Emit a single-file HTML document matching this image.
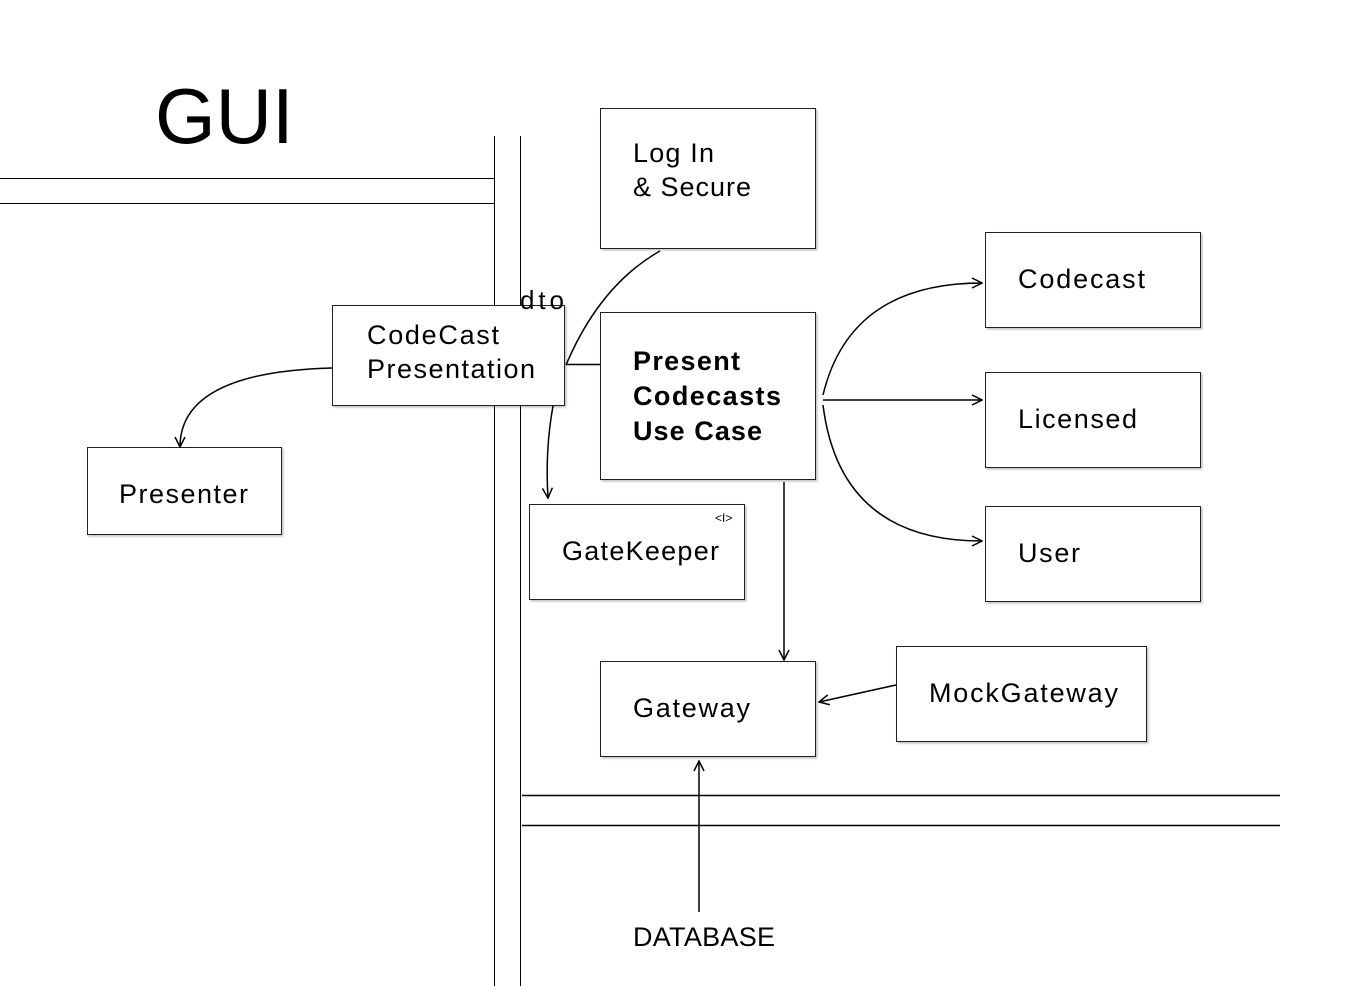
<!DOCTYPE html>
<html><head><meta charset="utf-8"><style>
html,body{margin:0;padding:0;background:#fff;width:1372px;height:986px;overflow:hidden}
svg{display:block}
text{font-family:"Liberation Sans",sans-serif;fill:#000}
</style></head><body>
<svg width="1372" height="986" viewBox="0 0 1372 986" xmlns="http://www.w3.org/2000/svg">
<defs>
<filter id="sh" x="-5%" y="-5%" width="115%" height="120%"><feDropShadow dx="1.5" dy="1.5" stdDeviation="1" flood-color="#000" flood-opacity="0.25"/></filter>
<marker id="ar" viewBox="0 0 12 12" refX="11" refY="6" markerWidth="12" markerHeight="12" markerUnits="userSpaceOnUse" orient="auto"><path d="M1,1 L11,6 L1,11" fill="none" stroke="#000" stroke-width="1.5"/></marker>
</defs>
<g stroke="#000" stroke-width="1" fill="none">
<line x1="0" y1="178.5" x2="494" y2="178.5"/>
<line x1="0" y1="203.5" x2="494" y2="203.5"/>
<line x1="494.5" y1="136" x2="494.5" y2="986"/>
<line x1="520.5" y1="136" x2="520.5" y2="986"/>
<line x1="522" y1="795.5" x2="1280" y2="795.5" stroke-width="1.5"/>
<line x1="522" y1="825.5" x2="1280" y2="825.5" stroke-width="1.5"/>
</g>
<g fill="#fff" stroke="#222" stroke-width="1" filter="url(#sh)">
<rect x="600.5" y="108.5" width="215" height="140"/>
<rect x="332.5" y="305.5" width="232" height="100"/>
<rect x="600.5" y="312.5" width="215" height="167"/>
<rect x="985.5" y="232.5" width="215" height="95"/>
<rect x="985.5" y="372.5" width="215" height="95"/>
<rect x="985.5" y="506.5" width="215" height="95"/>
<rect x="87.5" y="447.5" width="194" height="87"/>
<rect x="529.5" y="504.5" width="215" height="95"/>
<rect x="600.5" y="661.5" width="215" height="95"/>
<rect x="896.5" y="646.5" width="250" height="95"/>
</g>
<g stroke="#000" stroke-width="1.5" fill="none">
<path d="M660,251 Q600,285 566,365"/>
<line x1="566" y1="364.5" x2="600" y2="364.5"/>
<path d="M553,406 Q545,450 548,498" marker-end="url(#ar)"/>
<path d="M332,368 Q180,372 180,447" marker-end="url(#ar)"/>
<path d="M823,395 Q850,283 982,283" marker-end="url(#ar)"/>
<line x1="823" y1="400" x2="982" y2="400" marker-end="url(#ar)"/>
<path d="M823,405 Q840,541 982,541" marker-end="url(#ar)"/>
<line x1="784" y1="482" x2="784" y2="660" marker-end="url(#ar)"/>
<line x1="896" y1="685" x2="819" y2="702" marker-end="url(#ar)"/>
<line x1="699" y1="912" x2="699" y2="761" marker-end="url(#ar)"/>
</g>
<text x="155" y="143" font-size="78">GUI</text>
<g font-size="27" lengthAdjust="spacing">
<text x="633" y="162" textLength="81">Log In</text>
<text x="633" y="196" textLength="118">&amp; Secure</text>
<text x="520" y="309" font-size="26" textLength="44">dto</text>
<text x="367" y="344" textLength="132">CodeCast</text>
<text x="367" y="378" textLength="168">Presentation</text>
<text x="633" y="370" font-weight="bold" textLength="107">Present</text>
<text x="633" y="405" font-weight="bold" textLength="148">Codecasts</text>
<text x="633" y="440" font-weight="bold" textLength="129">Use Case</text>
<text x="1018" y="288" textLength="127">Codecast</text>
<text x="1018" y="428" textLength="119">Licensed</text>
<text x="1018" y="562" textLength="62">User</text>
<text x="119" y="503" textLength="129">Presenter</text>
<text x="562" y="560" textLength="157">GateKeeper</text>
<text x="633" y="717" textLength="117">Gateway</text>
<text x="929" y="702" textLength="189">MockGateway</text>
<text x="633" y="946" textLength="142">DATABASE</text>
</g>
<text x="715" y="522" font-size="12">&lt;I&gt;</text>
</svg>
</body></html>
